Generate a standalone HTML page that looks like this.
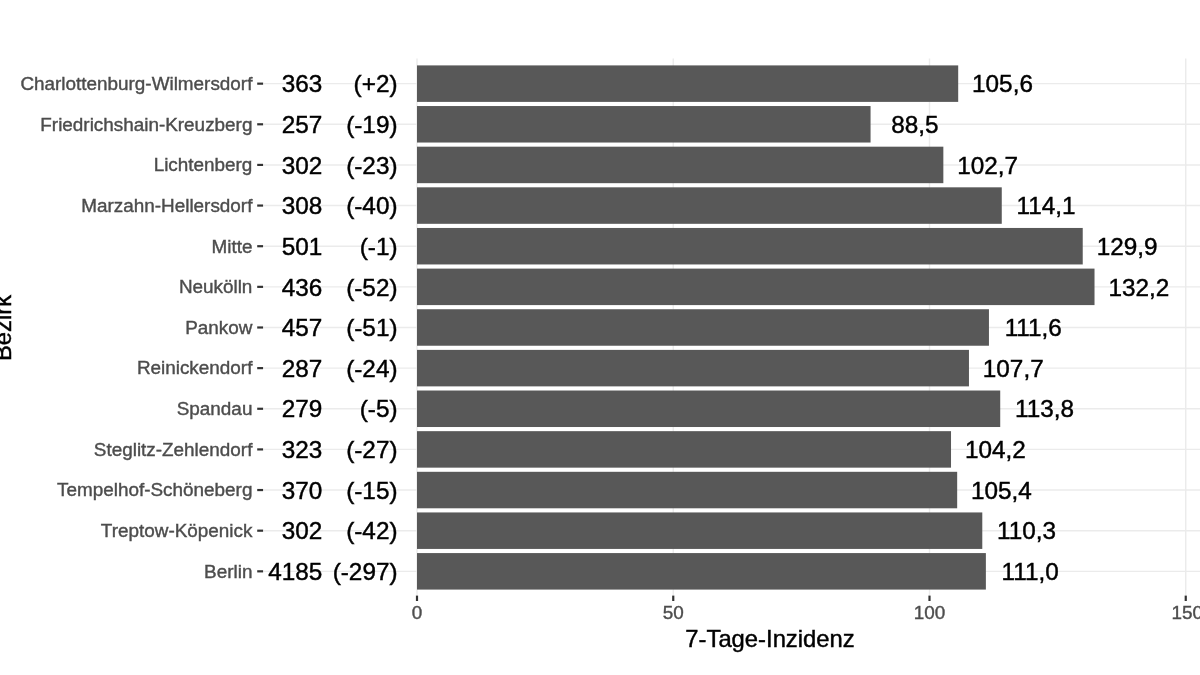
<!DOCTYPE html>
<html lang="de">
<head>
<meta charset="utf-8">
<title>7-Tage-Inzidenz nach Bezirk</title>
<style>
html,body{margin:0;padding:0;background:#fff;}
body{width:1200px;height:675px;overflow:hidden;}
svg{display:block;}
text{font-family:"Liberation Sans",sans-serif;}
.ax{font-size:18.9px;fill:#4d4d4d;stroke:#4d4d4d;stroke-width:0.4px;}
.big{font-size:24.3px;fill:#000;stroke:#000;stroke-width:0.45px;}
.ttl{font-size:23.8px;fill:#000;stroke:#000;stroke-width:0.45px;}
</style>
</head>
<body>
<svg width="1200" height="675" viewBox="0 0 1200 675">
<defs><filter id="soft" x="0" y="0" width="1200" height="675" filterUnits="userSpaceOnUse"><feGaussianBlur stdDeviation="0.5"/></filter></defs>
<rect x="0" y="0" width="1200" height="675" fill="#ffffff"/>
<g filter="url(#soft)">
<g stroke="#ebebeb" fill="none">
<line x1="417.00" y1="58.50" x2="417.00" y2="595.60" stroke-width="1.4"/>
<line x1="673.25" y1="58.50" x2="673.25" y2="595.60" stroke-width="1.4"/>
<line x1="929.50" y1="58.50" x2="929.50" y2="595.60" stroke-width="1.4"/>
<line x1="1185.75" y1="58.50" x2="1185.75" y2="595.60" stroke-width="1.4"/>
<line x1="263.50" y1="83.65" x2="1200" y2="83.65" stroke-width="1.4"/>
<line x1="263.50" y1="124.29" x2="1200" y2="124.29" stroke-width="1.4"/>
<line x1="263.50" y1="164.93" x2="1200" y2="164.93" stroke-width="1.4"/>
<line x1="263.50" y1="205.57" x2="1200" y2="205.57" stroke-width="1.4"/>
<line x1="263.50" y1="246.21" x2="1200" y2="246.21" stroke-width="1.4"/>
<line x1="263.50" y1="286.85" x2="1200" y2="286.85" stroke-width="1.4"/>
<line x1="263.50" y1="327.49" x2="1200" y2="327.49" stroke-width="1.4"/>
<line x1="263.50" y1="368.13" x2="1200" y2="368.13" stroke-width="1.4"/>
<line x1="263.50" y1="408.77" x2="1200" y2="408.77" stroke-width="1.4"/>
<line x1="263.50" y1="449.41" x2="1200" y2="449.41" stroke-width="1.4"/>
<line x1="263.50" y1="490.05" x2="1200" y2="490.05" stroke-width="1.4"/>
<line x1="263.50" y1="530.69" x2="1200" y2="530.69" stroke-width="1.4"/>
<line x1="263.50" y1="571.33" x2="1200" y2="571.33" stroke-width="1.4"/>
</g>
<g fill="#595959">
<rect x="417.00" y="65.40" width="541.20" height="36.50"/>
<rect x="417.00" y="106.04" width="453.56" height="36.50"/>
<rect x="417.00" y="146.68" width="526.34" height="36.50"/>
<rect x="417.00" y="187.32" width="584.76" height="36.50"/>
<rect x="417.00" y="227.96" width="665.74" height="36.50"/>
<rect x="417.00" y="268.60" width="677.52" height="36.50"/>
<rect x="417.00" y="309.24" width="571.95" height="36.50"/>
<rect x="417.00" y="349.88" width="551.96" height="36.50"/>
<rect x="417.00" y="390.52" width="583.23" height="36.50"/>
<rect x="417.00" y="431.16" width="534.02" height="36.50"/>
<rect x="417.00" y="471.80" width="540.18" height="36.50"/>
<rect x="417.00" y="512.44" width="565.29" height="36.50"/>
<rect x="417.00" y="553.08" width="568.88" height="36.50"/>
</g>
<g stroke="#333333" stroke-width="2.2" fill="none">
<line x1="257.20" y1="83.65" x2="263.10" y2="83.65"/>
<line x1="257.20" y1="124.29" x2="263.10" y2="124.29"/>
<line x1="257.20" y1="164.93" x2="263.10" y2="164.93"/>
<line x1="257.20" y1="205.57" x2="263.10" y2="205.57"/>
<line x1="257.20" y1="246.21" x2="263.10" y2="246.21"/>
<line x1="257.20" y1="286.85" x2="263.10" y2="286.85"/>
<line x1="257.20" y1="327.49" x2="263.10" y2="327.49"/>
<line x1="257.20" y1="368.13" x2="263.10" y2="368.13"/>
<line x1="257.20" y1="408.77" x2="263.10" y2="408.77"/>
<line x1="257.20" y1="449.41" x2="263.10" y2="449.41"/>
<line x1="257.20" y1="490.05" x2="263.10" y2="490.05"/>
<line x1="257.20" y1="530.69" x2="263.10" y2="530.69"/>
<line x1="257.20" y1="571.33" x2="263.10" y2="571.33"/>
<line x1="417.00" y1="595.60" x2="417.00" y2="601.00"/>
<line x1="673.25" y1="595.60" x2="673.25" y2="601.00"/>
<line x1="929.50" y1="595.60" x2="929.50" y2="601.00"/>
<line x1="1185.75" y1="595.60" x2="1185.75" y2="601.00"/>
</g>
<g class="ax" text-anchor="end">
<text x="252.40" y="89.95">Charlottenburg-Wilmersdorf</text>
<text x="252.40" y="130.59">Friedrichshain-Kreuzberg</text>
<text x="252.40" y="171.23">Lichtenberg</text>
<text x="252.40" y="211.87">Marzahn-Hellersdorf</text>
<text x="252.40" y="252.51">Mitte</text>
<text x="252.40" y="293.15">Neukölln</text>
<text x="252.40" y="333.79">Pankow</text>
<text x="252.40" y="374.43">Reinickendorf</text>
<text x="252.40" y="415.07">Spandau</text>
<text x="252.40" y="455.71">Steglitz-Zehlendorf</text>
<text x="252.40" y="496.35">Tempelhof-Schöneberg</text>
<text x="252.40" y="536.99">Treptow-Köpenick</text>
<text x="252.40" y="577.63">Berlin</text>
</g>
<g class="big" text-anchor="end">
<text x="322.30" y="92.35">363</text>
<text x="397.50" y="92.35">(+2)</text>
<text x="322.30" y="132.99">257</text>
<text x="397.50" y="132.99">(-19)</text>
<text x="322.30" y="173.63">302</text>
<text x="397.50" y="173.63">(-23)</text>
<text x="322.30" y="214.27">308</text>
<text x="397.50" y="214.27">(-40)</text>
<text x="322.30" y="254.91">501</text>
<text x="397.50" y="254.91">(-1)</text>
<text x="322.30" y="295.55">436</text>
<text x="397.50" y="295.55">(-52)</text>
<text x="322.30" y="336.19">457</text>
<text x="397.50" y="336.19">(-51)</text>
<text x="322.30" y="376.83">287</text>
<text x="397.50" y="376.83">(-24)</text>
<text x="322.30" y="417.47">279</text>
<text x="397.50" y="417.47">(-5)</text>
<text x="322.30" y="458.11">323</text>
<text x="397.50" y="458.11">(-27)</text>
<text x="322.30" y="498.75">370</text>
<text x="397.50" y="498.75">(-15)</text>
<text x="322.30" y="539.39">302</text>
<text x="397.50" y="539.39">(-42)</text>
<text x="322.30" y="580.03">4185</text>
<text x="397.50" y="580.03">(-297)</text>
</g>
<g class="big" text-anchor="middle">
<text x="1002.50" y="92.35">105,6</text>
<text x="914.86" y="132.99">88,5</text>
<text x="987.64" y="173.63">102,7</text>
<text x="1046.06" y="214.27">114,1</text>
<text x="1127.04" y="254.91">129,9</text>
<text x="1138.83" y="295.55">132,2</text>
<text x="1033.25" y="336.19">111,6</text>
<text x="1013.26" y="376.83">107,7</text>
<text x="1044.53" y="417.47">113,8</text>
<text x="995.32" y="458.11">104,2</text>
<text x="1001.48" y="498.75">105,4</text>
<text x="1026.59" y="539.39">110,3</text>
<text x="1030.17" y="580.03">111,0</text>
</g>
<g class="ax" text-anchor="middle">
<text x="417.00" y="619.20">0</text>
<text x="673.25" y="619.20">50</text>
<text x="929.50" y="619.20">100</text>
<text x="1187.25" y="619.20">150</text>
</g>
<text class="ttl" text-anchor="middle" x="770.00" y="646.70">7-Tage-Inzidenz</text>
<text class="ttl" text-anchor="middle" transform="translate(11.00,328.00) rotate(-90)">Bezirk</text>
</g>
</svg>
</body>
</html>
